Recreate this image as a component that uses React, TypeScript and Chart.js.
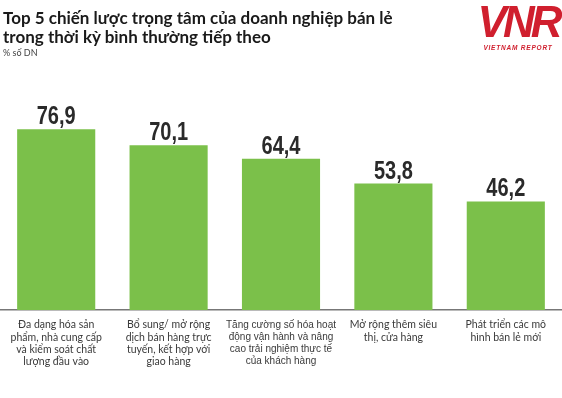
import React, { useEffect, useRef } from "react";
import { Chart, registerables } from "chart.js";

Chart.register(...registerables);

const categories: string[][] = [
  ["Đa dạng hóa sản", "phẩm, nhà cung cấp", "và kiểm soát chất", "lượng đầu vào"],
  ["Bổ sung/ mở rộng", "dịch bán hàng trực", "tuyến, kết hợp với", "giao hàng"],
  ["Tăng cường số hóa hoạt", "động vận hành và nâng", "cao trải nghiệm thực tế", "của khách hàng"],
  ["Mở rộng thêm siêu", "thị, cửa hàng"],
  ["Phát triển các mô", "hình bán lẻ mới"],
];
const values: number[] = [76.9, 70.1, 64.4, 53.8, 46.2];
const valueLabels: string[] = ["76,9", "70,1", "64,4", "53,8", "46,2"];

const titleLines: string[] = [
  "Top 5 chiến lược trọng tâm của doanh nghiệp bán lẻ",
  "trong thời kỳ bình thường tiếp theo",
];
const subtitle = "% số DN";

const valueLabelPlugin = {
  id: "valueLabels",
  afterDatasetsDraw(chart: any) {
    const ctx = chart.ctx;
    const meta = chart.getDatasetMeta(0);
    meta.data.forEach((el: any, i: number) => {
      ctx.save();
      ctx.translate(el.x, el.y - 5);
      ctx.scale(0.8, 1);
      ctx.font = 'bold 25px "Liberation Sans Narrow", "Liberation Sans", sans-serif';
      ctx.fillStyle = "#2a2a2a";
      ctx.textAlign = "center";
      ctx.textBaseline = "alphabetic";
      ctx.fillText(valueLabels[i], 0, 0);
      ctx.restore();
    });
  },
};

export default function App() {
  const canvasRef = useRef<HTMLCanvasElement>(null);

  useEffect(() => {
    if (!canvasRef.current) return;
    const chart = new Chart(canvasRef.current, {
      type: "bar",
      data: {
        labels: categories,
        datasets: [
          {
            data: values,
            backgroundColor: "#7bc04a",
            borderWidth: 0,
            barPercentage: 0.695,
            categoryPercentage: 1,
          },
        ],
      },
      options: {
        responsive: false,
        animation: false,
        layout: { padding: { top: 75, left: 0, right: 0, bottom: 0 } },
        plugins: {
          legend: { display: false },
          tooltip: { enabled: false },
          title: { display: false },
        },
        scales: {
          x: {
            grid: { display: false },
            border: { display: true, color: "#777777", width: 1.5 },
            ticks: {
              autoSkip: false,
              maxRotation: 0,
              minRotation: 0,
              padding: 1,
              color: "#3a3a3a",
              font: (ctx: any) =>
                ctx.index === 2
                  ? { family: '"Liberation Sans Narrow", sans-serif', size: 10, lineHeight: 1.2 }
                  : { family: "Lato, sans-serif", size: 10.5, lineHeight: 1.15 },
            },
            afterFit: (scale: any) => {
              scale.height = 88;
            },
          },
          y: {
            display: false,
            min: 0,
            max: 100,
          },
        },
      },
      plugins: [valueLabelPlugin],
    });
    return () => chart.destroy();
  }, []);

  return (
    <div
      style={{
        position: "absolute",
        left: 0,
        top: 0,
        width: 562,
        height: 398,
        background: "#ffffff",
        overflow: "hidden",
      }}
    >
      <canvas
        ref={canvasRef}
        width={562}
        height={398}
        style={{ position: "absolute", left: 0, top: 0, display: "block" }}
      />
      <div
        style={{
          position: "absolute",
          left: 3,
          top: 8,
          fontFamily: "Lato, sans-serif",
          fontWeight: 700,
          fontSize: 17,
          lineHeight: "19px",
          color: "#1a1a1a",
        }}
      >
        {titleLines.map((t, i) => (
          <div key={i}>{t}</div>
        ))}
        <div
          style={{
            fontWeight: 400,
            fontSize: 9,
            lineHeight: "12px",
            color: "#444",
            marginTop: 1,
          }}
        >
          {subtitle}
        </div>
      </div>
      <div
        style={{
          position: "absolute",
          left: 476,
          top: 0,
          width: 84,
          textAlign: "center",
          color: "#d01f2e",
        }}
      >
        <div
          style={{
            fontFamily: '"Liberation Sans", Arial, sans-serif',
            fontStyle: "italic",
            fontWeight: 900,
            fontSize: 44,
            letterSpacing: -4,
            lineHeight: "44px",
            marginTop: 0,
          }}
        >
          VNR
        </div>
        <div
          style={{
            fontFamily: '"Liberation Sans", Arial, sans-serif',
            fontStyle: "italic",
            fontWeight: 700,
            fontSize: 6.5,
            letterSpacing: 0.8,
            lineHeight: "8px",
          }}
        >
          VIETNAM REPORT
        </div>
      </div>
    </div>
  );
}
